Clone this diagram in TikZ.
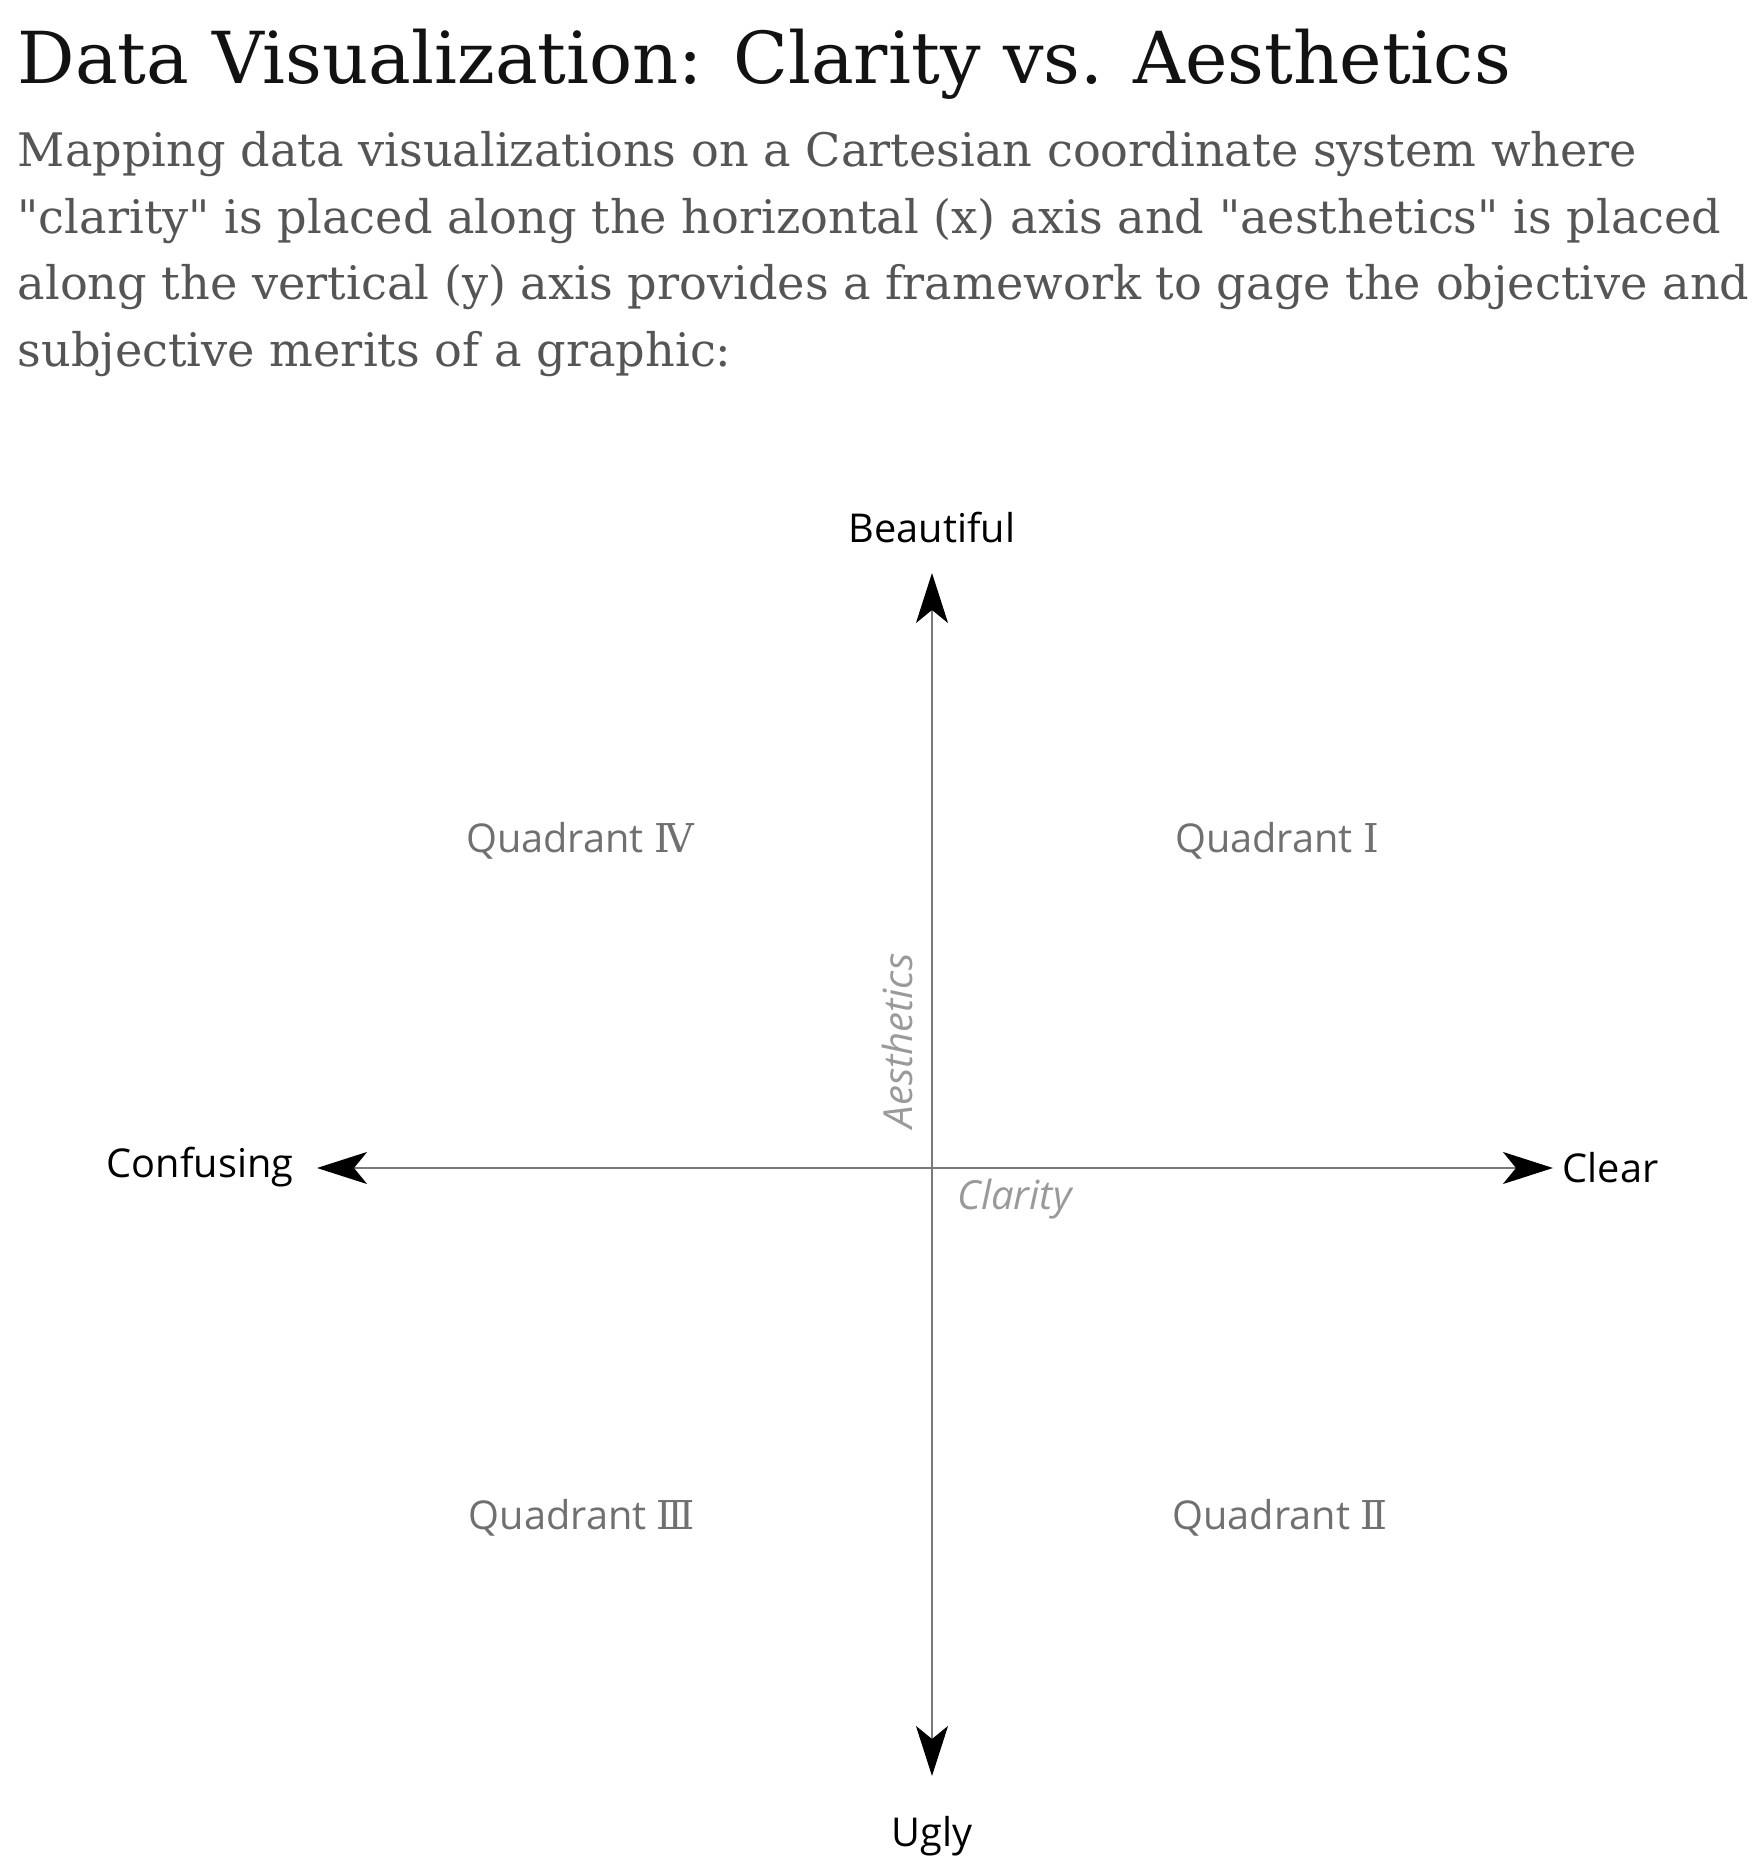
\documentclass[tikz,border=0pt]{standalone}
\usepackage{fontspec}
\setmainfont{DejaVu Serif}
\newfontfamily\bodyfont{DejaVu Serif}
\newfontfamily\labelfont{Open Sans}
\newfontfamily\romfont{DejaVu Serif}
\usetikzlibrary{arrows.meta}
\usepackage{xcolor}
\definecolor{subgray}{HTML}{555555}
\definecolor{axisgray}{HTML}{7A7A7A}
\definecolor{quadgray}{HTML}{707070}
\definecolor{namegray}{HTML}{9A9A9A}

\begin{document}
\begin{tikzpicture}[>={Stealth[length=5mm,width=3.2mm,inset=1.3mm,color=black]},
  axis/.style={draw=axisgray,line width=0.6pt},
  pole/.style={inner sep=0pt,font=\labelfont\fontsize{11.3}{14}\selectfont},
  quad/.style={inner sep=0pt,text=quadgray,font=\labelfont\fontsize{11.3}{14}\selectfont},
  axname/.style={inner sep=0pt,text=namegray,font=\labelfont\itshape\fontsize{11.4}{14}\selectfont},
  subline/.style={anchor=base west,inner sep=0pt,text=subgray,font=\bodyfont\fontsize{13.15}{16}\selectfont}]
\useasboundingbox (0,0) rectangle (17.58,18.72);
% heading
\node[anchor=base west,inner sep=0pt,text=black!93,font=\fontsize{20.4}{24}\selectfont] (title) at (0.17,17.88) {Data Visualization: Clarity vs. Aesthetics};
\node[subline] (sub1) at (0.17,17.05) {Mapping data visualizations on a Cartesian coordinate system where};
\node[subline] (sub2) at (0.17,16.385) {"clarity" is placed along the horizontal (x) axis and "aesthetics" is placed};
\node[subline] (sub3) at (0.17,15.72) {along the vertical (y) axis provides a framework to gage the objective and};
\node[subline] (sub4) at (0.17,15.055) {subjective merits of a graphic:};
% axes
\coordinate (origin) at (9.32,7.04);
\coordinate (west) at (3.17,7.04);
\coordinate (east) at (15.53,7.04);
\coordinate (north) at (9.32,12.99);
\coordinate (south) at (9.32,0.96);
\draw[axis,<->] (west) -- (east);
\draw[axis,<->] (south) -- (north);
% ends of the axes
\node[pole,anchor=base] (beautiful) at (9.32,13.29) {Beautiful};
\node[pole,anchor=base] (ugly) at (9.32,0.25) {Ugly};
\node[pole,anchor=base east] (confusing) at (2.94,6.94) {Confusing};
\node[pole,anchor=base west] (clear) at (15.62,6.89) {Clear};
% quadrants
\node[quad,anchor=base] (q4) at (5.80,10.19) {Quadrant {\romfont Ⅳ}};
\node[quad,anchor=base] (q1) at (12.77,10.19) {Quadrant {\romfont Ⅰ}};
\node[quad,anchor=base] (q3) at (5.82,3.42) {Quadrant {\romfont Ⅲ}};
\node[quad,anchor=base] (q2) at (12.80,3.42) {Quadrant {\romfont Ⅱ}};
% axis names
\node[axname,anchor=base,rotate=90] (aesthetics) at (9.12,8.31) {Aesthetics};
\node[axname,anchor=base west] (clarity) at (9.57,6.62) {Clarity};
\end{tikzpicture}
\end{document}
